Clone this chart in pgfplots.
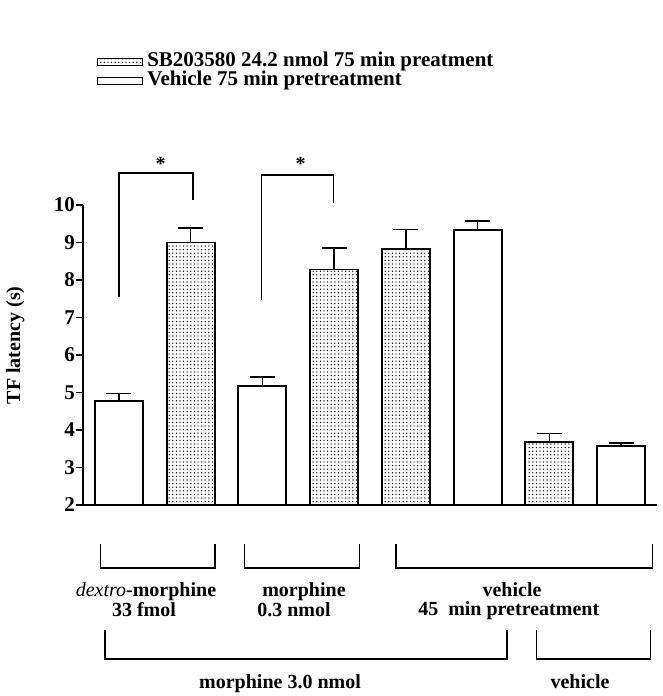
\documentclass[border=0pt]{standalone}
\usepackage{fontspec}
\setmainfont{Liberation Serif}
\usepackage{pgfplots}
\pgfplotsset{compat=1.18}
\usepackage{pgfplotstable}
\usetikzlibrary{patterns}
\newcommand\lab{\fontsize{20}{24}\selectfont\bfseries}
\newcommand\leglab{\fontsize{21}{25}\selectfont\bfseries}
\pgfdeclarepatternformonly{bigdots}{\pgfqpoint{-1pt}{-1pt}}{\pgfqpoint{1pt}{1pt}}{\pgfqpoint{3.6pt}{3.6pt}}{%
  \pgfpathcircle{\pgfqpoint{0pt}{0pt}}{0.72pt}\pgfusepath{fill}}

\pgfplotstableread{
x y err
1 9.00 0.39
3 8.28 0.57
4 8.82 0.53
6 3.68 0.23
}\sbdata
\pgfplotstableread{
x y err
0 4.77 0.20
2 5.18 0.23
5 9.33 0.25
7 3.57 0.09
}\vehdata

\begin{document}
\begin{tikzpicture}[x=1pt,y=1pt]
\useasboundingbox (0,0) rectangle (662,696);
\begin{axis}[
  at={(83pt,191pt)}, anchor=south west,
  scale only axis, width=574pt, height=300pt,
  xmin=-0.5, xmax=7.5, ymin=2, ymax=10,
  axis lines=left,
  axis line style={-, line width=1.8pt},
  xtick=\empty,
  ytick={2,3,...,10},
  tick align=outside,
  major tick length=7pt,
  ytick style={line width=1.6pt, black},
  /pgf/number format/assume math mode=true,
  yticklabel style={font=\fontsize{21}{25}\selectfont\bfseries, inner sep=1pt},
  ylabel={TF latency (s)},
  ylabel style={font=\fontsize{20}{24}\selectfont\bfseries, at={(axis description cs:-0.118,0.532)}, anchor=center},
  clip=false,
  ybar, bar width=48pt,
  legend style={at={(axis description cs:0.0185,1.515)}, anchor=north west,
    draw=none, fill=none, font=\leglab, column sep=4pt,
    nodes={inner sep=0pt, text height=14pt, text depth=5pt}},
  legend cell align=left,
  legend image code/.code={\draw[#1, line width=1.5pt] (0pt,-3.5pt) rectangle (45pt,3.5pt);},
]
\addplot[bar shift=0pt, draw=black, line width=1.8pt, pattern=bigdots, pattern color=black,
  error bars/.cd, y dir=plus, y explicit,
  error bar style={line width=1.6pt, black},
  error mark options={rotate=90, mark size=12.5pt, line width=1.6pt, black}]
  table[x=x, y=y, y error=err] {\sbdata};
\addlegendentry{SB203580 24.2 nmol 75 min preatment}
\addplot[bar shift=0pt, draw=black, fill=white, line width=1.8pt,
  error bars/.cd, y dir=plus, y explicit,
  error bar style={line width=1.6pt, black},
  error mark options={rotate=90, mark size=12.5pt, line width=1.6pt, black}]
  table[x=x, y=y, y error=err] {\vehdata};
\addlegendentry{Vehicle 75 min pretreatment}

\draw[line width=1.6pt] (axis cs:0,7.555) -- (axis cs:0,10.853) -- (axis cs:1.037,10.853) -- (axis cs:1.037,10.13);
\draw[line width=1.6pt] (axis cs:1.99,7.47) -- (axis cs:1.99,10.8) -- (axis cs:2.99,10.8) -- (axis cs:2.99,10.06);
\node[anchor=base, font=\fontsize{20}{22}\selectfont\bfseries, inner sep=0pt] at (axis cs:0.583,10.93) {*};
\node[anchor=base, font=\fontsize{20}{22}\selectfont\bfseries, inner sep=0pt] at (axis cs:2.534,10.91) {*};
\end{axis}

% group brackets
\draw[line width=1.5pt] (100.4,152) -- (100.4,128) -- (215,128) -- (215,152);
\draw[line width=1.5pt] (244.7,152) -- (244.7,128) -- (359.6,128) -- (359.6,152);
\draw[line width=1.5pt] (396,152) -- (396,128) -- (652.5,128) -- (652.5,152);
\draw[line width=1.5pt] (105,66) -- (105,37) -- (507,37) -- (507,66);
\draw[line width=1.5pt] (536.5,66) -- (536.5,37) -- (650.6,37) -- (650.6,66);

\begin{scope}[every node/.style={anchor=base, inner sep=0pt, font=\lab}]
\node at (146,99) {\textit{\mdseries dextro}-morphine};
\node at (144,79) {33 fmol};
\node at (304,99) {morphine};
\node at (294,79) {0.3 nmol};
\node at (512,99) {vehicle};
\node at (508.7,80) {45\ \ min pretreatment};
\node at (280,7) {morphine 3.0 nmol};
\node at (580,7) {vehicle};
\end{scope}
\end{tikzpicture}
\end{document}
